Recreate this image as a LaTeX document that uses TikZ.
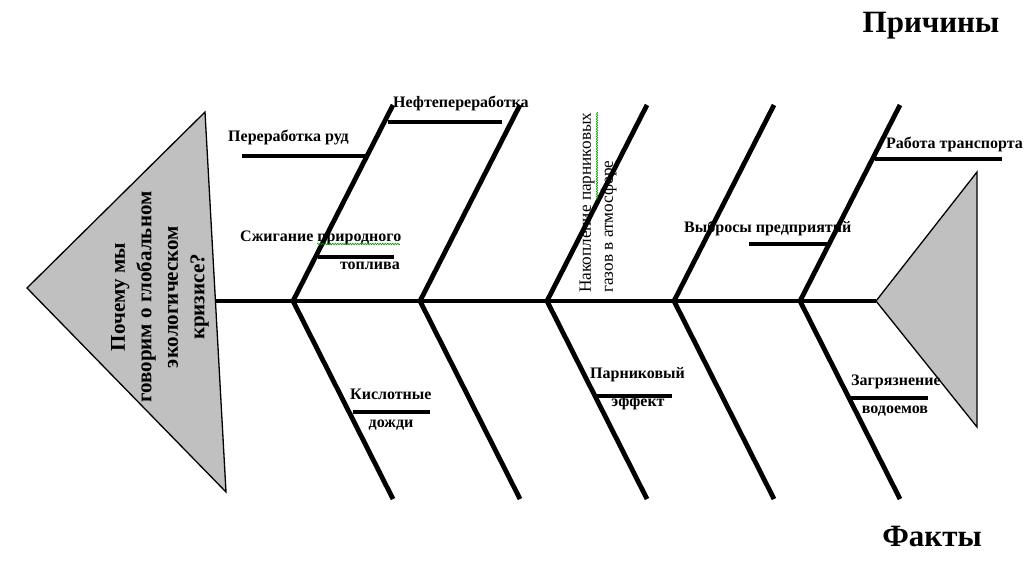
\documentclass[tikz,border=0pt]{standalone}
\usepackage{fontspec}
\setmainfont{Liberation Serif}
\usetikzlibrary{positioning,decorations.pathmorphing}
\definecolor{finGray}{RGB}{192,192,192}
\definecolor{spellGreen}{RGB}{0,150,0}

\begin{document}
\begin{tikzpicture}[x=1pt, y=-1pt,
	bone/.style = {line width=4.8pt, line join=miter},
	rib/.style = {line width=3.6pt},
	fin/.style = {draw, line width=1.3pt, fill=finGray, line join=miter},
	lbl/.style = {font=\bfseries\fontsize{16}{19}\selectfont, inner sep=0pt},
	note/.style = {font=\fontsize{17.2}{22}\selectfont, align=left, inner sep=0pt},
	head/.style = {font=\bfseries\fontsize{21}{26.5}\selectfont, align=center, inner sep=0pt},
	title/.style = {font=\bfseries\fontsize{31}{36}\selectfont, inner sep=0pt},
	squiggle/.style = {draw=spellGreen, line width=0.6pt, decorate,
		decoration={snake, amplitude=0.8pt, segment length=2.5pt}}]
	\useasboundingbox (0,0) rectangle (1028,568);
	% spine and fins
	\coordinate (S0) at (215,301);
	\coordinate (S1) at (876,301);
	\draw[line width=4pt] (S0) -- (S1);
	\coordinate (HT) at (27,288);
	\coordinate (HA) at (205,112);
	\coordinate (HB) at (226,492);
	\filldraw[fin] (HT) -- (HA) -- (HB) -- cycle;
	\coordinate (TA) at (977,172);
	\coordinate (TB) at (977,427);
	\filldraw[fin] (S1) -- (TA) -- (TB) -- cycle;
	% bones
	\coordinate (J1) at (293,301); \coordinate (U1) at (393,105); \coordinate (L1) at (393,499);
	\coordinate (J2) at (420,301); \coordinate (U2) at (520,105); \coordinate (L2) at (520,499);
	\coordinate (J3) at (547,301); \coordinate (U3) at (647,105); \coordinate (L3) at (647,499);
	\coordinate (J4) at (674,301); \coordinate (U4) at (774,105); \coordinate (L4) at (774,499);
	\coordinate (J5) at (800,301); \coordinate (U5) at (900,105); \coordinate (L5) at (900,499);
	\draw[bone] (U1) -- (J1) -- (L1);
	\draw[bone] (U2) -- (J2) -- (L2);
	\draw[bone] (U3) -- (J3) -- (L3);
	\draw[bone] (U4) -- (J4) -- (L4);
	\draw[bone] (U5) -- (J5) -- (L5);
	% ribs
	\coordinate (rudA) at (242,156);  \coordinate (rudB) at (367,156);
	\coordinate (neftA) at (388,122); \coordinate (neftB) at (502,122);
	\coordinate (szhA) at (318,257);  \coordinate (szhB) at (394,257);
	\coordinate (kislA) at (353,412); \coordinate (kislB) at (430,412);
	\coordinate (vybrA) at (749,244); \coordinate (vybrB) at (827,244);
	\coordinate (rabA) at (875,159);  \coordinate (rabB) at (1002,159);
	\coordinate (parnA) at (595,396); \coordinate (parnB) at (672,396);
	\coordinate (zagrA) at (848,398); \coordinate (zagrB) at (928,398);
	\draw[rib] (rudA) -- (rudB);
	\draw[rib] (neftA) -- (neftB);
	\draw[rib] (szhA) -- (szhB);
	\draw[rib] (kislA) -- (kislB);
	\draw[rib] (vybrA) -- (vybrB);
	\draw[rib] (rabA) -- (rabB);
	\draw[rib] (parnA) -- (parnB);
	\draw[rib] (zagrA) -- (zagrB);
	% labels
	\node[lbl, anchor=base west] (rud) at (228,141) {Переработка руд};
	\node[lbl, anchor=base west] (neft) at (393,107) {Нефтепереработка};
	\node[lbl, anchor=base west] (szh) at (240,241) {Сжигание природного};
	\node[lbl, anchor=base east] (topl) at (400,269) {топлива};
	\node[lbl, anchor=base west] (kisl) at (350,399) {Кислотные};
	\node[lbl, anchor=base] (dozh) at (391,427) {дожди};
	\node[lbl, anchor=base west] (vybr) at (684,232) {Выбросы предприятий};
	\node[lbl, anchor=base west] (rab) at (886,148) {Работа транспорта};
	\node[lbl, anchor=base west] (parn) at (590,378) {Парниковый};
	\node[lbl, anchor=base] (eff) at (638,406) {эффект};
	\node[lbl, anchor=base west] (zagr) at (851,385) {Загрязнение};
	\node[lbl, anchor=base] (vodo) at (895,413) {водоемов};
	\node[note, rotate=90, anchor=west] (nak) at (598,293) {Накопление парниковых\\газов в атмосфере};
	\node[head, rotate=90] (why) at (160,297) {Почему мы\\говорим о глобальном\\экологическом\\кризисе?};
	\node[title, anchor=base] (cause) at (931,32) {Причины};
	\node[title, anchor=base] (fact) at (932,546) {Факты};
	% spelling marks
	\coordinate (spA) at (317,244); \coordinate (spB) at (400,244);
	\coordinate (spC) at (597,112); \coordinate (spD) at (597,200);
	\draw[squiggle] (spA) -- (spB);
	\draw[squiggle] (spC) -- (spD);
\end{tikzpicture}
\end{document}
